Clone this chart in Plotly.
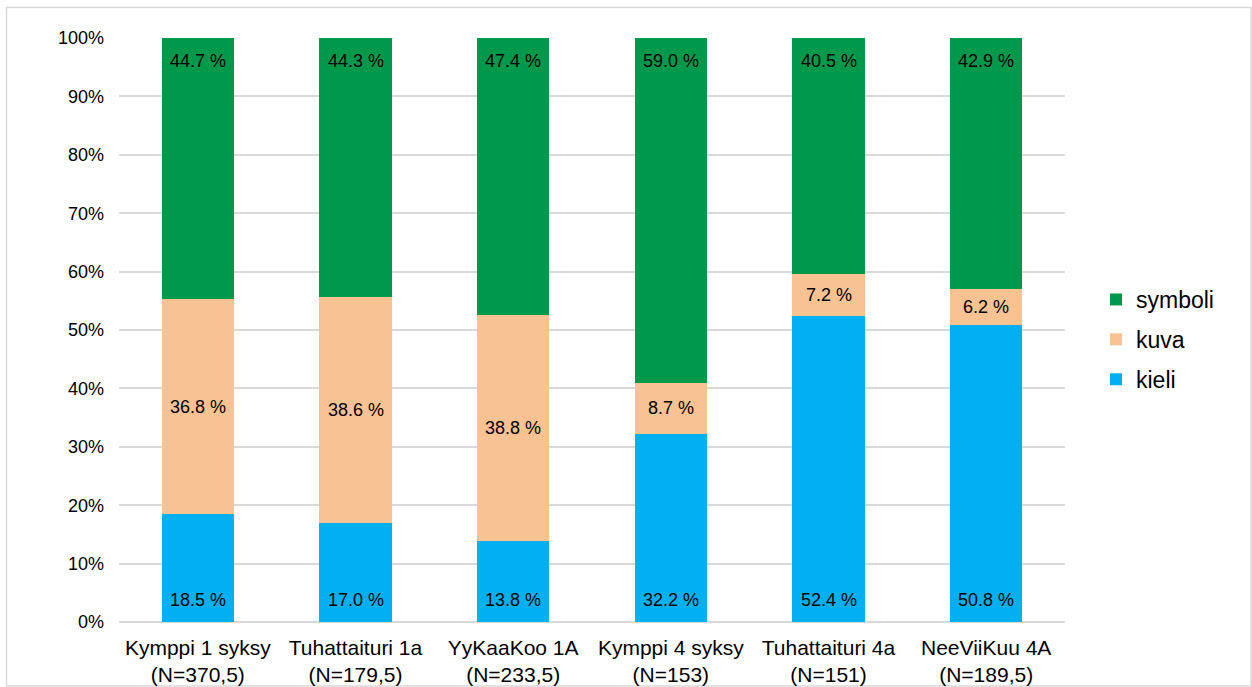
import plotly.graph_objects as go

categories = ["Kymppi 1 syksy<br>(N=370,5)", "Tuhattaituri 1a<br>(N=179,5)", "YyKaaKoo 1A<br>(N=233,5)",
              "Kymppi 4 syksy<br>(N=153)", "Tuhattaituri 4a<br>(N=151)", "NeeViiKuu 4A<br>(N=189,5)"]
kieli = [18.5, 17.0, 13.8, 32.2, 52.4, 50.8]
kuva = [36.8, 38.6, 38.8, 8.7, 7.2, 6.2]
symboli = [44.7, 44.3, 47.4, 59.0, 40.5, 42.9]

font = "Liberation Sans, Arial, sans-serif"
fig = go.Figure()
series = [("kieli", kieli, "#00B0F0", 3), ("kuva", kuva, "#F8C293", 2), ("symboli", symboli, "#00994C", 1)]
for name, vals, col, rank in series:
    fig.add_trace(go.Bar(
        x=categories, y=vals, name=name, marker=dict(color=col, line=dict(width=0)),
        legendgroup=name, legendrank=rank, width=0.457, hoverinfo="skip"))

# data labels
annotations = []
for i, c in enumerate(categories):
    tot = kieli[i] + kuva[i] + symboli[i]
    k = kieli[i] / tot * 100
    v = kuva[i] / tot * 100
    lab = dict(x=c, xref="x", yref="y", showarrow=False, yanchor="middle",
               font=dict(family=font, size=18, color="#000000"))
    annotations.append(dict(lab, y=0, yshift=22, text=f"{kieli[i]:.1f} %"))
    annotations.append(dict(lab, y=k + v / 2, text=f"{kuva[i]:.1f} %"))
    annotations.append(dict(lab, y=100, yshift=-23, text=f"{symboli[i]:.1f} %"))

L, R, T, B = 119, 1065, 38, 622
W, H = R - L, B - T
def px(x): return (x - L) / W
def py(y): return (B - y) / H

fig.update_layout(
    barmode="stack", barnorm="percent",
    width=1252, height=687,
    margin=dict(l=L, r=1252 - R, t=T, b=687 - B, autoexpand=False),
    paper_bgcolor="white", plot_bgcolor="white",
    font=dict(family=font, size=18, color="#000000"),
    showlegend=True,
    legend=dict(x=px(1096), y=py(278), xanchor="left", yanchor="top",
                traceorder="grouped", tracegroupgap=7,
                font=dict(family=font, size=23, color="#000000"),
                itemwidth=30),
    xaxis=dict(showgrid=False, showline=False, ticks="", ticklabelstandoff=11, automargin=False,
               tickfont=dict(size=21, family=font, color="#000000")),
    yaxis=dict(range=[0, 100], dtick=10, ticksuffix="%", showgrid=True, gridcolor="#D9D9D9", gridwidth=1.5,
               zeroline=True, zerolinecolor="#D9D9D9", zerolinewidth=1.5, showline=False, ticks="",
               automargin=False, ticklabelstandoff=14, tickfont=dict(size=18, family=font, color="#000000")),
    shapes=[dict(type="rect", xref="paper", yref="paper", x0=px(6.5), x1=px(1251), y0=py(686), y1=py(7.5),
                 line=dict(color="#D9D9D9", width=1.5), fillcolor="rgba(0,0,0,0)", layer="below")],
    annotations=annotations,
)
fig.write_html("out.html")
